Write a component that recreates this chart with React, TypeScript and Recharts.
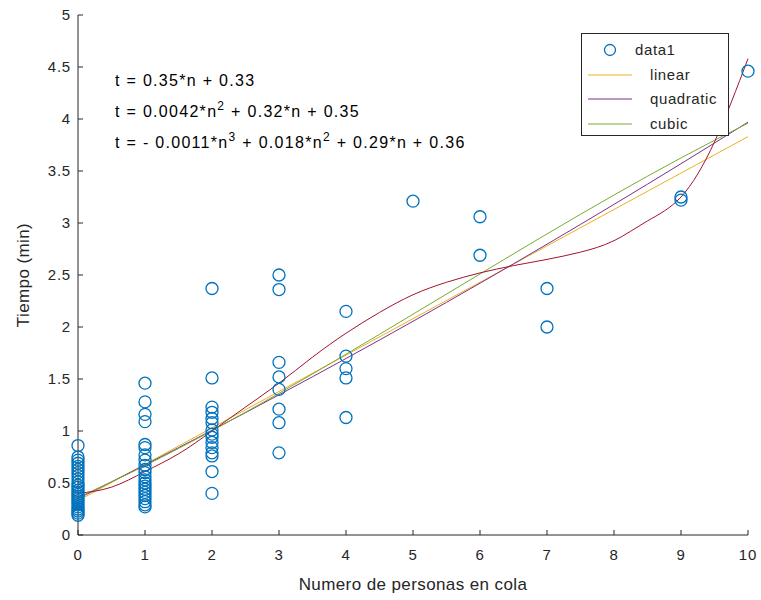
import React from "react";
import {
  ComposedChart,
  Scatter,
  Line,
  XAxis,
  YAxis,
  Legend,
} from "recharts";

// observed queue length (n) and waiting time (t, minutes), paired by index
const queueN = [
  0, 0, 0, 0, 0, 0, 0, 0, 0, 0, 0, 0, 0, 0, 0, 0, 0, 0, 0, 0, 0, 0, 0, 0, 0,
  1, 1, 1, 1, 1, 1, 1, 1, 1, 1, 1, 1, 1, 1, 1, 1, 1, 1, 1, 1, 1, 1,
  2, 2, 2, 2, 2, 2, 2, 2, 2, 2, 2, 2, 2, 2, 2,
  3, 3, 3, 3, 3, 3, 3, 3,
  4, 4, 4, 4, 4,
  5,
  6, 6,
  7, 7,
  9, 9, 9,
  10,
];
const waitT = [
  0.86, 0.75, 0.72, 0.69, 0.66, 0.63, 0.6, 0.57, 0.54, 0.51, 0.48, 0.46, 0.43,
  0.41, 0.39, 0.37, 0.35, 0.33, 0.31, 0.29, 0.27, 0.25, 0.23, 0.21, 0.19,
  1.46, 1.28, 1.16, 1.09, 0.87, 0.84, 0.77, 0.72, 0.67, 0.63, 0.6, 0.56, 0.53,
  0.5, 0.47, 0.44, 0.41, 0.38, 0.35, 0.32, 0.29, 0.27,
  2.37, 1.51, 1.23, 1.18, 1.12, 1.08, 1.01, 0.97, 0.94, 0.89, 0.84, 0.79, 0.76,
  0.61, 0.4,
  2.5, 2.36, 1.66, 1.52, 1.4, 1.21, 1.08, 0.79,
  2.15, 1.72, 1.6, 1.51, 1.13,
  3.21,
  3.06, 2.69,
  2.37, 2.0,
  3.9, 3.25, 3.22,
  4.46,
];

// fitted curves evaluated at n = 0..10
const fitN = [0, 1, 2, 3, 4, 5, 6, 7, 8, 9, 10];
const linearT = [0.33, 0.68, 1.03, 1.38, 1.73, 2.08, 2.43, 2.78, 3.13, 3.48, 3.83];
const quadraticT = [0.35, 0.674, 1.007, 1.348, 1.697, 2.055, 2.421, 2.796, 3.179, 3.57, 3.97];
const cubicT = [0.36, 0.667, 1.003, 1.362, 1.738, 2.123, 2.51, 2.895, 3.269, 3.626, 3.96];

// higher order curve, sampled every half step
const highN = [0, 0.5, 1, 1.5, 2, 2.5, 3, 3.5, 4, 4.5, 5, 5.5, 6, 6.5, 7, 7.5, 8, 8.5, 9, 9.5, 10];
const highT = [
  0.4, 0.46, 0.61, 0.78, 1.0, 1.23, 1.46, 1.71, 1.94, 2.14, 2.31, 2.43, 2.52,
  2.59, 2.65, 2.72, 2.83, 3.02, 3.25, 3.78, 4.58,
];

const xTicks = [0, 1, 2, 3, 4, 5, 6, 7, 8, 9, 10];
const yTicks = [0, 0.5, 1, 1.5, 2, 2.5, 3, 3.5, 4, 4.5, 5];

const points = queueN.map((n, i) => ({ n, t: waitT[i] }));
const toRows = (t: number[]) => fitN.map((n, i) => ({ n, t: t[i] }));
const highRows = highN.map((n, i) => ({ n, t: highT[i] }));

const FONT = "'Liberation Sans', Arial, sans-serif";
const INK = "#262626";
const BLUE = "#0072BD";

const legendOrder = ["data1", "linear", "quadratic", "cubic"];
const colors: Record<string, string> = {
  data1: BLUE,
  linear: "#EDB120",
  quadratic: "#7E2F8E",
  cubic: "#77AC30",
};

const Ring = (props: any) => (
  <circle cx={props.cx} cy={props.cy} r={6} fill="none" stroke={BLUE} strokeWidth={1.3} />
);

const FitLegend = (props: any) => {
  const entries = (props.payload || [])
    .filter((e: any) => colors[e.value])
    .sort((a: any, b: any) => legendOrder.indexOf(a.value) - legendOrder.indexOf(b.value));
  return (
    <div
      style={{
        width: 148,
        height: 103,
        boxSizing: "border-box",
        border: `1px solid ${INK}`,
        background: "#fff",
        fontFamily: FONT,
        fontSize: 15,
        color: INK,
        position: "relative",
      }}
    >
      {entries.map((e: any, i: number) => {
        const top = 4 + i * 24.5;
        const isData = e.value === "data1";
        return (
          <div key={e.value} style={{ position: "absolute", left: 0, top, height: 24, width: "100%" }}>
            {isData ? (
              <svg width={40} height={24} style={{ position: "absolute", left: 20, top: 0 }}>
                <circle cx={8} cy={12} r={5.5} fill="none" stroke={BLUE} strokeWidth={1.3} />
              </svg>
            ) : (
              <svg width={50} height={24} style={{ position: "absolute", left: 5, top: 0 }}>
                <line x1={1} x2={45} y1={12} y2={12} stroke={colors[e.value]} strokeWidth={1} />
              </svg>
            )}
            <span
              style={{
                position: "absolute",
                left: isData ? 53 : 68,
                top: 3,
                lineHeight: "18px",
                letterSpacing: 0.6,
              }}
            >
              {e.value}
            </span>
          </div>
        );
      })}
    </div>
  );
};

const sup = { fontSize: 12 };

export default function App() {
  return (
    <div style={{ position: "absolute", left: 0, top: 0, width: 761, height: 600, background: "#fff", fontFamily: FONT }}>
      <ComposedChart width={761} height={600} margin={{ top: 15, right: 13, left: 0, bottom: 0 }}>
        <XAxis
          type="number"
          dataKey="n"
          domain={[0, 10]}
          ticks={xTicks}
          interval={0}
          height={65}
          stroke={INK}
          tickSize={-5}
          tickMargin={19}
          tick={{ fill: INK, fontSize: 15, fontFamily: FONT, letterSpacing: 0.8 }}
          label={{
            value: "Numero de personas en cola",
            position: "insideBottom",
            offset: 10,
            fill: INK,
            fontSize: 17,
            fontFamily: FONT,
            letterSpacing: 0.4,
          }}
        />
        <YAxis
          type="number"
          dataKey="t"
          domain={[0, 5]}
          ticks={yTicks}
          interval={0}
          width={78}
          stroke={INK}
          tickSize={-5}
          tickMargin={12}
          tick={{ fill: INK, fontSize: 15, fontFamily: FONT, letterSpacing: 0.8 }}
          label={{
            content: () => (
              <text
                transform="translate(29,275) rotate(-90)"
                textAnchor="middle"
                fill={INK}
                fontSize={17}
                fontFamily={FONT}
                letterSpacing={0.4}
              >
                Tiempo (min)
              </text>
            ),
          }}
        />
        <Legend
          layout="horizontal"
          align="center"
          verticalAlign="middle"
          wrapperStyle={{ left: 581, top: 33, width: 148, height: 103 }}
          content={<FitLegend />}
        />
        <Scatter name="data1" data={points} dataKey="t" shape={<Ring />} isAnimationActive={false} />
        <Line name="linear" data={toRows(linearT)} dataKey="t" type="linear" stroke={colors.linear} strokeWidth={1} dot={false} activeDot={false} isAnimationActive={false} />
        <Line name="quadratic" data={toRows(quadraticT)} dataKey="t" type="monotone" stroke={colors.quadratic} strokeWidth={1} dot={false} activeDot={false} isAnimationActive={false} />
        <Line name="cubic" data={toRows(cubicT)} dataKey="t" type="monotone" stroke={colors.cubic} strokeWidth={1} dot={false} activeDot={false} isAnimationActive={false} />
        <Line name="high order" data={highRows} dataKey="t" type="natural" stroke="#A2142F" strokeWidth={1} dot={false} activeDot={false} legendType="none" isAnimationActive={false} />
      </ComposedChart>
      <svg
        width={761}
        height={600}
        style={{ position: "absolute", left: 0, top: 0, pointerEvents: "none" }}
        fontFamily={FONT}
        fontSize={16}
        fill="#000"
        letterSpacing={1.3}
      >
        <text x={115} y={86}>t = 0.35*n + 0.33</text>
        <text x={115} y={117}>
          t = 0.0042*n<tspan dy={-7} style={sup}>2</tspan>
          <tspan dy={7}> + 0.32*n + 0.35</tspan>
        </text>
        <text x={115} y={148}>
          t = - 0.0011*n<tspan dy={-7} style={sup}>3</tspan>
          <tspan dy={7}> + 0.018*n</tspan>
          <tspan dy={-7} style={sup}>2</tspan>
          <tspan dy={7}> + 0.29*n + 0.36</tspan>
        </text>
      </svg>
    </div>
  );
}
